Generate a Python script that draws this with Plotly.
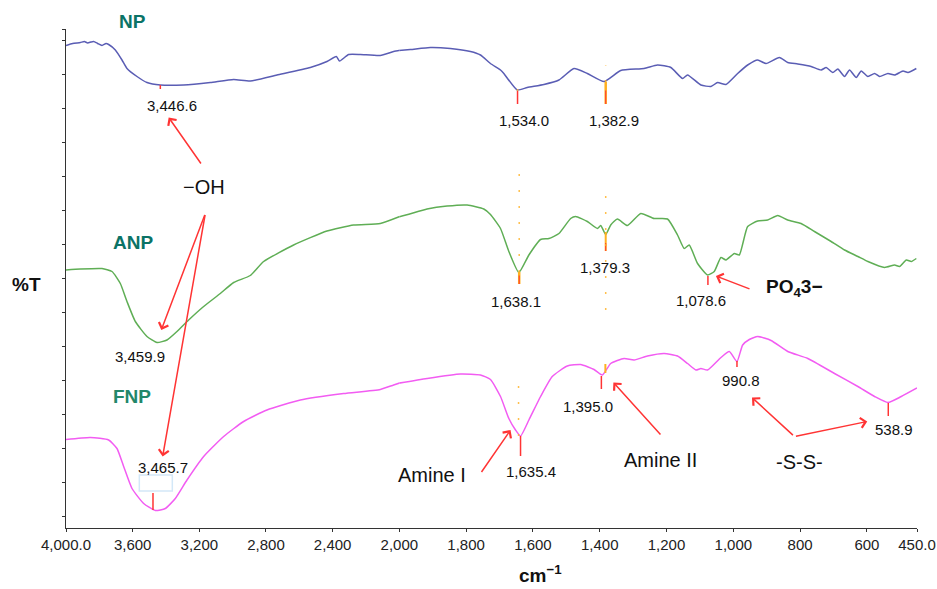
import numpy as np
import plotly.graph_objects as go

# ---------------- data (wavenumber in cm-1, transmittance in arbitrary %T units) -------------
np_wn = [4000, 3960, 3914, 3890, 3870, 3850, 3834, 3810, 3784, 3760, 3744, 3704, 3664, 3634,
         3574, 3514, 3434, 3294, 3134, 2994, 2894, 2734, 2534, 2434, 2378, 2358, 2304, 2234,
         2114, 2034, 1967, 1907, 1847, 1787, 1757, 1727, 1697, 1687, 1647, 1617, 1567, 1522,
         1477, 1437, 1387, 1337, 1267, 1227, 1187, 1152, 1137, 1097, 1067, 1047, 1022, 987,
         957, 927, 902, 862, 837, 807, 767, 737, 722, 702, 687, 667, 652, 632, 617, 597, 577,
         562, 537, 517, 492, 477, 452]
np_t = [96.5, 96.9, 97.1, 97.3, 97.0, 97.2, 97.3, 96.9, 96.5, 96.9, 96.7, 95.6, 93.6, 91.9,
        90.3, 89.1, 88.6, 88.6, 89.1, 89.7, 89.4, 90.6, 92.1, 93.3, 94.3, 93.4, 94.7, 94.7,
        94.5, 95.3, 95.7, 96.1, 95.9, 95.3, 94.6, 92.9, 91.6, 90.9, 87.6, 88.1, 88.7, 89.6,
        91.9, 90.9, 89.3, 91.5, 91.9, 92.6, 92.1, 89.9, 90.6, 88.6, 88.3, 89.1, 88.7, 90.9,
        92.6, 93.6, 92.9, 94.1, 93.1, 92.8, 92.3, 91.6, 92.1, 91.1, 91.8, 90.3, 91.6, 90.1,
        91.4, 90.3, 90.9, 90.3, 90.9, 90.6, 91.4, 91.1, 91.9]

anp_wn = [4000, 3914, 3784, 3724, 3674, 3634, 3584, 3514, 3454, 3394, 3334, 3264, 3174, 3074,
          2994, 2894, 2814, 2634, 2434, 2274, 2114, 1997, 1917, 1857, 1797, 1747, 1727, 1697,
          1672, 1642, 1612, 1577, 1552, 1522, 1487, 1472, 1437, 1407, 1397, 1382, 1367, 1347,
          1317, 1277, 1237, 1197, 1167, 1147, 1132, 1107, 1077, 1057, 1037, 1022, 997, 982,
          957, 927, 897, 867, 837, 797, 757, 707, 667, 627, 597, 547, 517, 502, 482, 467, 452]
anp_t = [51.6, 51.8, 51.9, 51.3, 48.9, 45.3, 41.3, 38.3, 37.1, 37.6, 39.3, 41.6, 44.3, 46.9,
         49.1, 50.5, 53.3, 56.6, 59.4, 60.6, 60.9, 62.3, 63.8, 64.4, 64.6, 63.8, 62.7, 59.9,
         55.3, 51.1, 54.6, 57.7, 57.9, 58.9, 61.9, 62.3, 61.3, 59.9, 60.5, 58.7, 60.6, 61.8,
         60.5, 62.9, 61.9, 61.8, 58.6, 55.9, 56.6, 52.9, 50.6, 51.3, 54.1, 53.6, 54.9, 54.6,
         60.3, 61.4, 61.6, 62.5, 61.6, 60.9, 59.3, 57.3, 55.6, 54.3, 53.3, 52.1, 52.6, 52.3,
         53.6, 53.3, 53.9]

fnp_wn = [4000, 3854, 3744, 3694, 3654, 3604, 3534, 3464, 3404, 3344, 3274, 3174, 3054, 2934,
          2794, 2594, 2334, 2114, 2034, 1917, 1817, 1757, 1727, 1697, 1672, 1652, 1637, 1612,
          1577, 1542, 1497, 1457, 1417, 1392, 1367, 1327, 1297, 1257, 1207, 1167, 1137, 1112,
          1097, 1077, 1037, 1012, 989, 972, 952, 927, 887, 837, 777, 697, 627, 577, 537, 497, 450]
fnp_t = [17.7, 18.1, 17.6, 15.9, 12.3, 7.9, 4.9, 3.5, 3.9, 5.9, 9.6, 14.3, 18.3, 21.3,
         23.6, 25.6, 26.9, 27.7, 28.6, 29.9, 30.8, 30.6, 29.7, 26.3, 21.9, 19.6, 18.4, 21.6,
         26.3, 30.3, 32.4, 32.7, 31.7, 30.6, 32.9, 33.9, 33.6, 34.4, 34.9, 34.4, 32.9, 31.6,
         31.9, 31.6, 34.1, 35.3, 33.3, 36.6, 37.7, 38.3, 37.5, 35.3, 33.9, 30.9, 28.3, 26.3,
         25.1, 26.3, 28.0]

hi_ticks = [4000, 3600, 3200, 2800, 2400, 2000]
hi_text = ["4,000.0", "3,600", "3,200", "2,800", "2,400", "2,000"]
lo_ticks = [1800, 1600, 1400, 1200, 1000, 800, 600, 450]
lo_text = ["1,800", "1,600", "1,400", "1,200", "1,000", "800", "600", "450.0"]

series_names = ["NP", "ANP", "FNP"]
series_colors = ["#5a5db4", "#5fae55", "#f25cf2"]

BREAK = 2000          # scale changes at 2000 cm-1
FONT = "Arial, 'Liberation Sans', sans-serif"
RED = "#ff3434"
ORANGE = "#ffb020"


def split(wn, t):
    wn = np.asarray(wn, float)
    t = np.asarray(t, float)
    last_hi = np.where(wn >= BREAK)[0][-1]
    return (wn[:last_hi + 2], t[:last_hi + 2]), (wn[last_hi:], t[last_hi:])


def axref(w):
    return "x" if w >= BREAK else "x2"


fig = go.Figure()
for name, wn, t, col in zip(series_names, [np_wn, anp_wn, fnp_wn], [np_t, anp_t, fnp_t], series_colors):
    (hx, hy), (lx, ly) = split(wn, t)
    for xs, ys, xa in ((hx, hy, "x"), (lx, ly, "x2")):
        fig.add_trace(go.Scatter(x=xs, y=ys, mode="lines", name=name, xaxis=xa, yaxis="y",
                                 line=dict(color=col, width=1.5, shape="spline", smoothing=0.5),
                                 showlegend=False))

# ---------------- annotations ----------------
annotations = []


def label(text, x, y, xref, yref, size, color="#111", yanchor="middle"):
    return dict(text=text, x=x, y=y, xref=xref, yref=yref, showarrow=False,
                xanchor="center", yanchor=yanchor,
                font=dict(family=FONT, size=size, color=color))


# peak labels (text, x position in cm-1, y position)
peak_labels = [
    ("3,446.6", 3364, 84.6), ("1,534.0", 1627, 81.5), ("1,382.9", 1357, 81.6),
    ("3,459.9", 3558, 34.3), ("1,638.1", 1652, 45.4), ("1,379.3", 1385, 52.1),
    ("1,078.6", 1097, 45.6), ("3,465.7", 3420, 12.1), ("1,635.4", 1607, 11.4),
    ("1,395.0", 1435, 24.3), ("990.8", 977, 29.5), ("538.9", 518, 19.7),
]
for txt, w, yv in peak_labels:
    annotations.append(label(txt, w, yv, axref(w), "y", 15))

# group labels
big_labels = [
    ("−OH", 3170, 68.3, 20), ("Amine I", 1902, 10.6, 20), ("Amine II", 1217, 13.7, 20),
    ("-S-S-", 802, 13.3, 20), ("<b>PO<sub>4</sub>3−</b>", 816, 48.0, 19),
]
for txt, w, yv, sz in big_labels:
    annotations.append(label(txt, w, yv, axref(w), "y", sz))

# sample names
annotations.append(label("<b>NP</b>", 3602, 1.0146, "x", "paper", 19, "#0b7366"))
annotations.append(label("<b>ANP</b>", 3598, 57.1, "x", "y", 19, "#0b7366"))
annotations.append(label("<b>FNP</b>", 3604, 26.3, "x", "y", 19, "#23876a"))

# arrows (head x, head y, tail x, tail y)
arrows = [
    (3384, 82.1, 3184, 72.6), (3428, 39.6, 3164, 62.9), (3420, 14.3, 3164, 62.9),
    (1052, 50.4, 947, 47.7), (1667, 19.6, 1757, 10.9), (1359, 29.1, 1214, 18.4),
    (944, 26.1, 817, 18.3), (599, 21.3, 817, 18.3),
]
for hx, hy, tx, ty in arrows:
    r = axref(hx)
    annotations.append(dict(text="", x=hx, y=hy, xref=r, yref="y", ax=tx, ay=ty, axref=r, ayref="y",
                            showarrow=True, arrowhead=4, arrowsize=1.3, arrowwidth=1.5,
                            arrowcolor=RED, standoff=0))

# axis titles
annotations.append(label("<b>%T</b>", -0.0467, 0.487, "paper", "paper", 19))
annotations.append(label("<b>cm<sup>−1</sup></b>", 0.557, -0.1202, "paper", "paper", 19,
                         yanchor="bottom"))

# ---------------- peak marker lines ----------------
shapes = []
peak_marks = [  # (x, y0, y1, colour, width)
    (3434, 87.8, 88.6, RED, 1.5),
    (1646, 84.8, 87.4, RED, 1.5), (1382, 84.8, 89.2, ORANGE, 2.5), (1382, 84.8, 87.5, RED, 1),
    (1641, 48.8, 51.2, ORANGE, 2.5), (1641, 48.8, 50.5, RED, 1),
    (1382, 55.4, 59.2, ORANGE, 2), (1382, 55.4, 57.0, RED, 1), (1076, 48.6, 50.4, RED, 1.5),
    (3478, 3.6, 7.0, RED, 1.5), (1637, 14.4, 18.4, RED, 1.5), (1395, 27.8, 30.4, RED, 1.5),
    (1383, 31.0, 32.8, ORANGE, 2), (989, 32.2, 33.4, RED, 1.5), (536, 22.4, 25.0, RED, 1.5),
]
for w, y0, y1, c, lw in peak_marks:
    shapes.append(dict(type="line", xref=axref(w), yref="y", x0=w, x1=w, y0=y0, y1=y1,
                       line=dict(color=c, width=lw)))
faint_marks = [(1643, 18.4, 31.2), (1641, 51.2, 71.6), (1382, 43.6, 66.6), (1646, 87.4, 89.5),
               (1382, 89.2, 92.5)]
for w, y0, y1 in faint_marks:
    shapes.append(dict(type="line", xref=axref(w), yref="y", x0=w, x1=w, y0=y0, y1=y1,
                       line=dict(color=ORANGE, width=1.5, dash="2px,14px"), opacity=0.8))
shapes.append(dict(type="rect", xref="x", yref="y", x0=3560, x1=3362, y0=7.4, y1=10.6,
                   line=dict(color="#d3e8f8", width=1.5)))

# ---------------- axes ----------------
d = (399 - 65.7) / 851.0
ytick = list(np.round(2.4 + 6.8 * np.arange(15), 2)) + [99.8]
axis_common = dict(showline=True, linecolor="#333", linewidth=1, ticks="outside", ticklen=3,
                   tickcolor="#333", showgrid=False, zeroline=False, automargin=False,
                   tickfont=dict(family=FONT, size=15, color="#222"))

fig.update_layout(
    width=937, height=589,
    margin=dict(l=66, r=20, t=29, b=61, autoexpand=False),
    paper_bgcolor="white", plot_bgcolor="white",
    showlegend=False,
    xaxis=dict(domain=[0, d], range=[4000, BREAK], tickvals=hi_ticks, ticktext=hi_text,
               anchor="y", **axis_common),
    xaxis2=dict(domain=[d, 1], range=[BREAK, 450], tickvals=lo_ticks, ticktext=lo_text,
                anchor="y", **axis_common),
    yaxis=dict(range=[0, 99.8], tickvals=ytick, showticklabels=False, anchor="x", **axis_common),
    annotations=annotations,
    shapes=shapes,
)

# remove the default 8 px page margin so the 937x589 figure fills the window exactly
fig.write_html("out.html", config={"displayModeBar": False},
               post_script="document.body.style.margin='0px';")
